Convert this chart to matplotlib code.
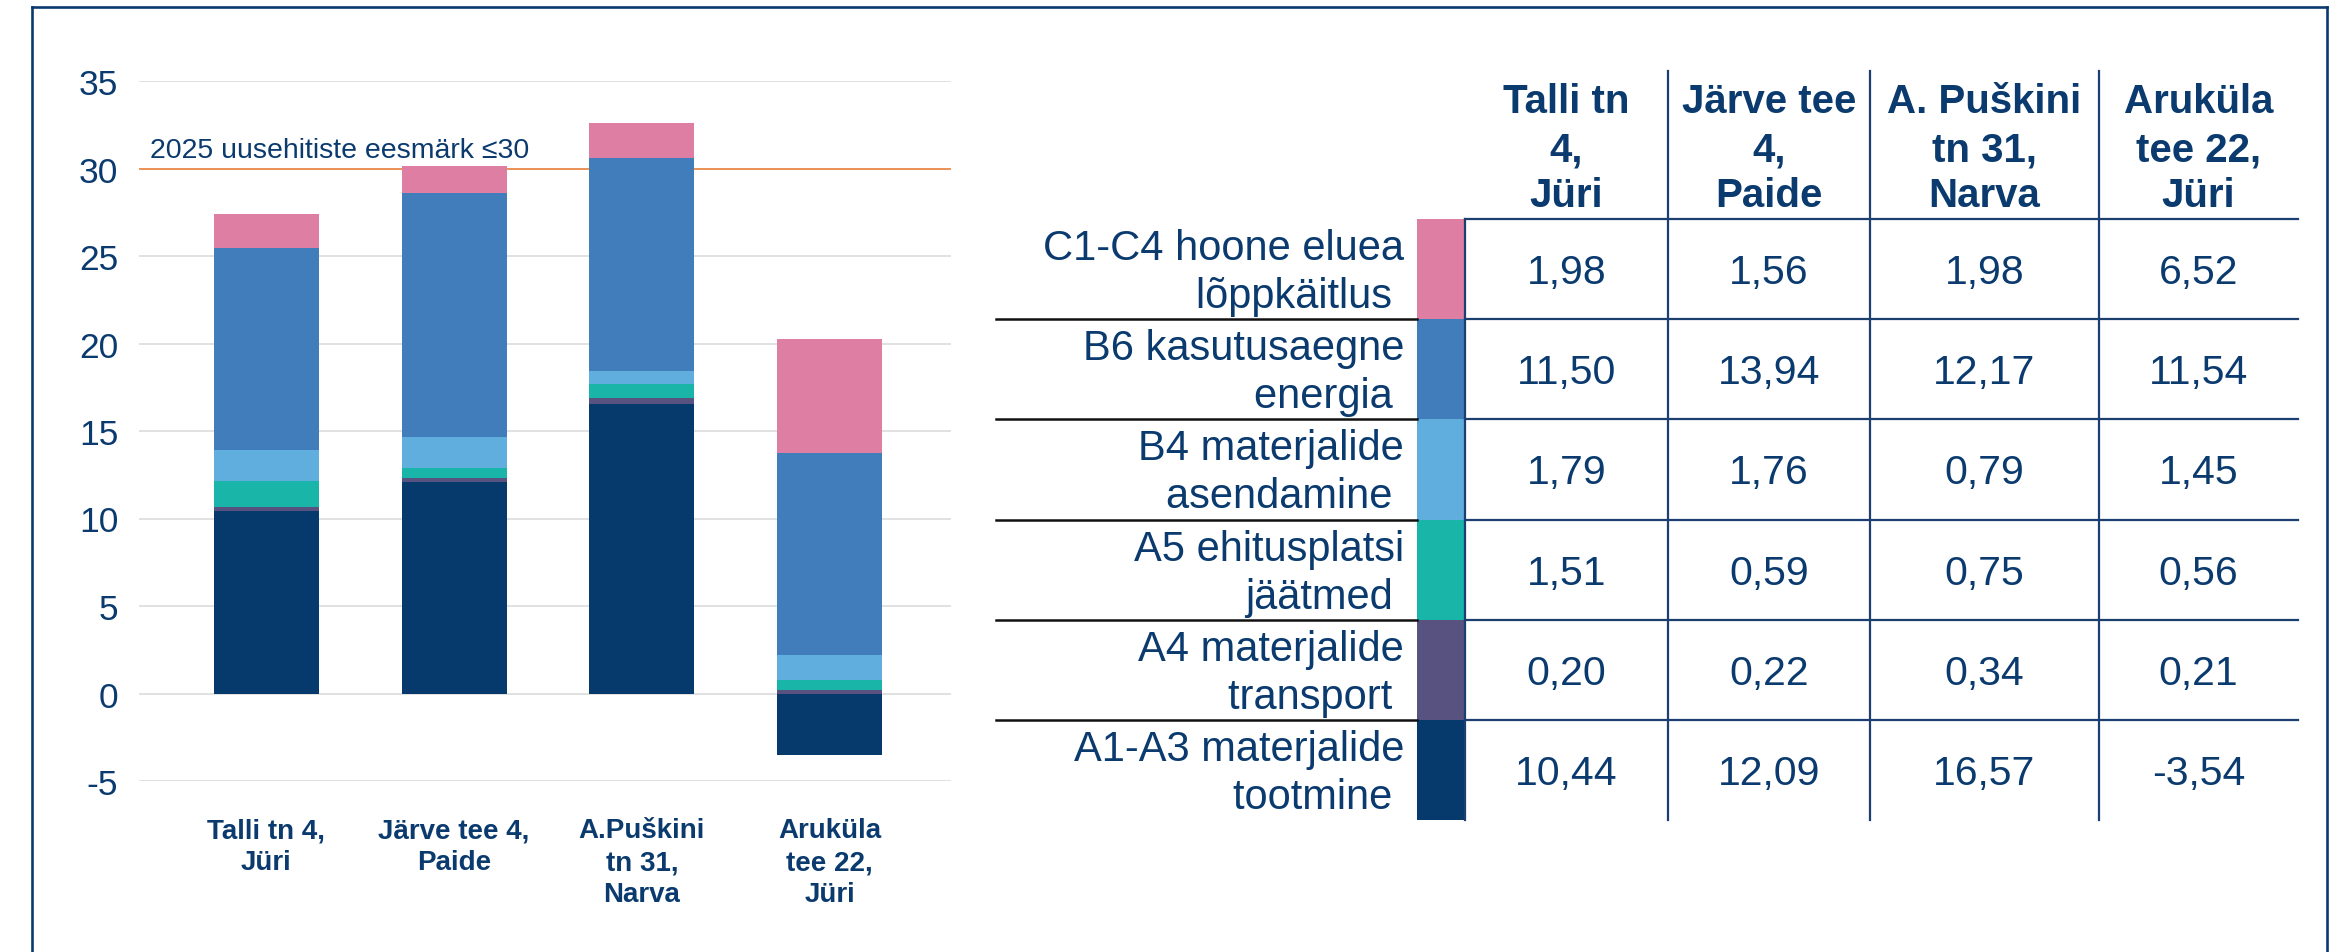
import matplotlib
matplotlib.use("Agg")
import matplotlib.pyplot as plt
import numpy as np

plt.rcParams['font.family'] = ['Liberation Sans', 'DejaVu Sans']

# ---------------- data ----------------
categories = ["Talli tn 4,\nJüri", "Järve tee 4,\nPaide",
              "A.Puškini\ntn 31,\nNarva", "Aruküla\ntee 22,\nJüri"]
table_headers = ["Talli tn\n4,\nJüri", "Järve tee\n4,\nPaide",
                 "A. Puškini\ntn 31,\nNarva", "Aruküla\ntee 22,\nJüri"]
series_names = ["A1-A3 materjalide\ntootmine ", "A4 materjalide\ntransport ",
                "A5 ehitusplatsi\njäätmed ", "B4 materjalide\nasendamine ",
                "B6 kasutusaegne\nenergia ", "C1-C4 hoone eluea\nlõppkäitlus "]
a1_a3 = [10.44, 12.09, 16.57, -3.54]
a4 = [0.20, 0.22, 0.34, 0.21]
a5 = [1.51, 0.59, 0.75, 0.56]
b4 = [1.79, 1.76, 0.79, 1.45]
b6 = [11.50, 13.94, 12.17, 11.54]
c1_c4 = [1.98, 1.56, 1.98, 6.52]
series_values = [a1_a3, a4, a5, b4, b6, c1_c4]
series_colors = ["#063A6C", "#57527F", "#18B5A8", "#5FAEDE", "#417CBB", "#DE7EA2"]
target_value = 30
target_label = "2025 uusehitiste eesmärk ≤30"
y_ticks = [-5, 0, 5, 10, 15, 20, 25, 30, 35]

NAVY = "#0A3A6E"
LINE = "#1B3F6F"
W, H = 2342, 953

fig = plt.figure(figsize=(W / 100, H / 100), dpi=100)
fig.patch.set_facecolor("white")

# ---------------- chart ----------------
ax = fig.add_axes([139 / W, (H - 782) / H, (951 - 139) / W, 700 / H])
x = np.arange(len(categories))
pos_base = np.zeros(len(categories))
neg_base = np.zeros(len(categories))
for vals, col in zip(series_values, series_colors):
    vals = np.array(vals, dtype=float)
    bottoms = np.where(vals >= 0, pos_base, neg_base)
    ax.bar(x, vals, bottom=bottoms, width=0.56, color=col, zorder=3, linewidth=0)
    pos_base = pos_base + np.where(vals >= 0, vals, 0)
    neg_base = neg_base + np.where(vals < 0, vals, 0)

ax.set_xlim(-0.679, 3.647)
ax.set_ylim(-5, 35)
ax.set_yticks(y_ticks)
ax.set_yticklabels([str(t) for t in y_ticks], fontsize=25.5, color=NAVY)
ax.yaxis.grid(True, color="#D9D9D9", linewidth=1.1, zorder=0)
ax.set_xticks(x)
ax.set_xticklabels(categories, fontsize=20, fontweight="bold", color=NAVY,
                   linespacing=1.3)
ax.tick_params(axis="y", length=0, pad=15)
ax.tick_params(axis="x", length=0, pad=26)
for s in ax.spines.values():
    s.set_visible(False)
ax.axhline(target_value, color="#ED7D31", linewidth=1.1, zorder=2)
ax.text(-0.62, 30.68, target_label, fontsize=20.5, color=NAVY, va="baseline", ha="left")

# ---------------- overlay for table and frame ----------------
ov = fig.add_axes([0, 0, 1, 1], zorder=-1)
ov.set_xlim(0, W)
ov.set_ylim(H, 0)
ov.axis("off")

# frame
ov.plot([32, 32], [H + 5, 8], color="#0B3A6E", lw=1.9, solid_capstyle="projecting")
ov.plot([32, 2327], [8, 8], color="#0B3A6E", lw=1.9, solid_capstyle="projecting")
ov.plot([2327, 2327], [8, H + 5], color="#0B3A6E", lw=1.9, solid_capstyle="projecting")

col_edges = [1465, 1668, 1870, 2099, 2298]
row_top = 220
row_h = 100.2
n_rows = len(series_values)
row_edges = [row_top + i * row_h for i in range(n_rows + 1)]
sw_left, sw_right = 1417, 1465
lab_left = 996

# swatches (top row = last series)
for i in range(n_rows):
    si = n_rows - 1 - i
    ov.add_patch(plt.Rectangle((sw_left, row_edges[i]), sw_right - sw_left, row_h,
                               color=series_colors[si], lw=0))

# horizontal lines
for i in range(n_rows):
    ov.plot([col_edges[0], col_edges[-1]], [row_edges[i]] * 2, color=LINE, lw=1.6)
for i in range(1, n_rows):
    ov.plot([lab_left, sw_left], [row_edges[i]] * 2, color="#111111", lw=1.8)
# vertical lines
ov.plot([col_edges[0]] * 2, [row_edges[0], row_edges[-1]], color=LINE, lw=1.6)
for xe in col_edges[1:-1]:
    ov.plot([xe, xe], [72, row_edges[-1]], color=LINE, lw=1.6)

# header text
col_centers = [(col_edges[j] + col_edges[j + 1]) / 2 for j in range(len(col_edges) - 1)]
header_baselines = [113, 161, 207]
for j, hdr in enumerate(table_headers):
    for k, line in enumerate(hdr.split("\n")):
        ov.text(col_centers[j], header_baselines[k], line, fontsize=29, fontweight="bold",
                color=NAVY, ha="center", va="baseline")

# row labels and values
for i in range(n_rows):
    si = n_rows - 1 - i
    top = row_edges[i]
    l1, l2 = series_names[si].split("\n")
    ov.text(1404, top + 40, l1, fontsize=30, color=NAVY, ha="right", va="baseline")
    ov.text(1404, top + 88, l2, fontsize=30, color=NAVY, ha="right", va="baseline")
    for j, v in enumerate(series_values[si]):
        ov.text(col_centers[j], top + 64, f"{v:.2f}".replace(".", ","), fontsize=29.5,
                color=NAVY, ha="center", va="baseline")

fig.savefig("out.png", dpi=100, facecolor="white")
